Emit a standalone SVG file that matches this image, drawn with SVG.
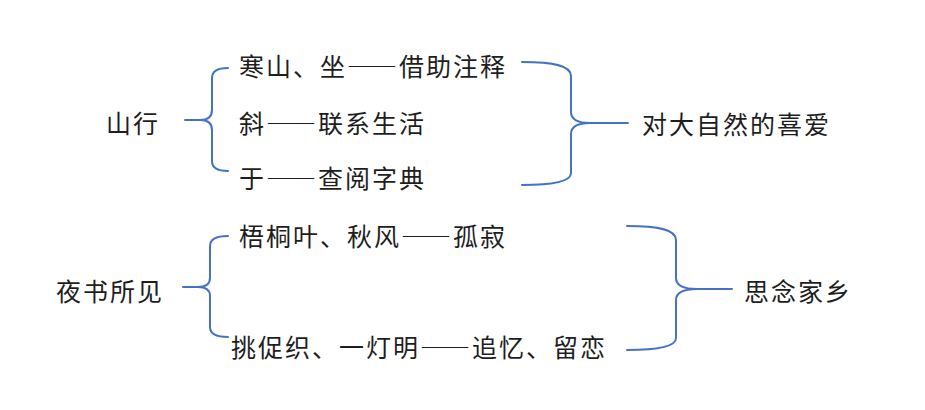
<svg xmlns="http://www.w3.org/2000/svg" width="925" height="410" viewBox="0 0 925 410">
<style>
text{font-family:"Noto Sans CJK SC","Noto Sans CJK JP",sans-serif;font-size:25px;fill:#1e1e1e;letter-spacing:2px}
.d{font-feature-settings:"fwid" 1}
.br{fill:none;stroke:#4472C4;stroke-width:2;stroke-linecap:round;stroke-linejoin:round}
</style>
<rect width="925" height="410" fill="#fff"/>
<g id="connectors">
<path class="br" d="M228,68 Q212,68 212,78 L212,110 Q212,120 200,120 L185,120 M200,120 Q212,120 212,130 L212,161 Q212,171 228,171"/>
<path class="br" d="M522,62 C555,62 571,66 571,76 L571,112 Q571,123 590,123 L628,123 M590,123 Q571,123 571,134 L571,173 C571,181 555,185 522,185"/>
<path class="br" d="M228,236 Q210,236 210,246 L210,278 Q210,287 198,287 L183,287 M198,287 Q210,287 210,296 L210,327 Q210,337 228,337"/>
<path class="br" d="M627,226 C660,226 676,230 676,240 L676,278 Q676,289 697,289 L732,289 M697,289 Q676,289 676,300 L676,338 C676,346 660,350 627,350"/>
</g>
<g id="n-shanxing"><text x="106" y="133">山行</text></g>
<g id="n-a1"><text x="239" y="76">寒山、坐<tspan class="d">——</tspan>借助注释</text></g>
<g id="n-a2"><text x="239" y="133">斜<tspan class="d">——</tspan>联系生活</text></g>
<g id="n-a3"><text x="239" y="188">于<tspan class="d">——</tspan>查阅字典</text></g>
<g id="n-love"><text x="642" y="134">对大自然的喜爱</text></g>
<g id="n-yeshu"><text x="56" y="301">夜书所见</text></g>
<g id="n-b1"><text x="239" y="246">梧桐叶、秋风<tspan class="d">——</tspan>孤寂</text></g>
<g id="n-b2"><text x="231" y="357">挑促织、一灯明<tspan class="d">——</tspan>追忆、留恋</text></g>
<g id="n-home"><text x="744" y="301">思念家乡</text></g>
</svg>
